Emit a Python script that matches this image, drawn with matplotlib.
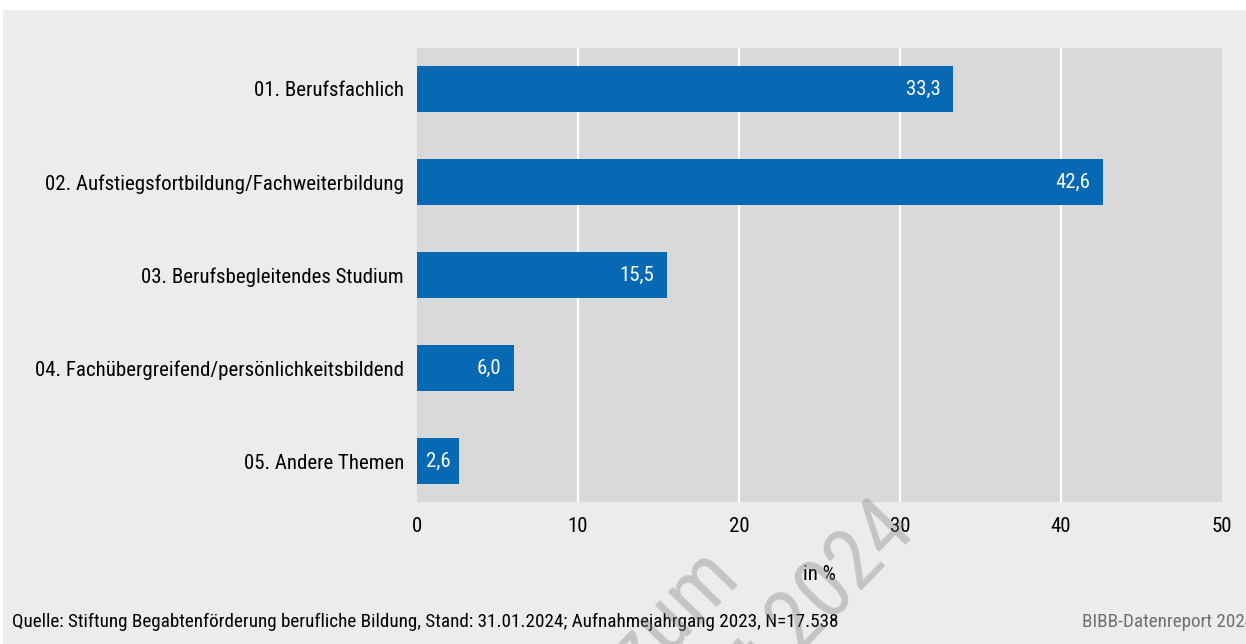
import matplotlib
matplotlib.use("Agg")
import matplotlib.pyplot as plt
from matplotlib import font_manager
from matplotlib.patches import Rectangle

# data
categories = [
    "01. Berufsfachlich",
    "02. Aufstiegsfortbildung/Fachweiterbildung",
    "03. Berufsbegleitendes Studium",
    "04. Fachübergreifend/persönlichkeitsbildend",
    "05. Andere Themen",
]
values = [33.3, 42.6, 15.5, 6.0, 2.6]
xticks = [0, 10, 20, 30, 40, 50]

source = "Quelle: Stiftung Begabtenförderung berufliche Bildung, Stand: 31.01.2024; Aufnahmejahrgang 2023, N=17.538"
credit = "BIBB-Datenreport 2024"

# pick a narrow font if one is there
names = {f.name for f in font_manager.fontManager.ttflist}
family = 'DejaVu Sans'
for cand in ['Roboto Condensed', 'Liberation Sans Narrow', 'Liberation Sans']:
    if cand in names:
        family = cand
        break
plt.rcParams['font.family'] = [family, 'DejaVu Sans']

bar_color = '#0769b4'
panel_bg = '#ececec'
plot_bg = '#d9d9d9'
fs = 15

fig = plt.figure(figsize=(12.46, 6.44), dpi=100)
fig.patch.set_facecolor('white')
# outer grey panel
fig.patches.append(Rectangle((3 / 1246, 0), 1, 1 - 10 / 644, transform=fig.transFigure,
                             facecolor=panel_bg, edgecolor='none', zorder=-5))

ax = fig.add_axes([417 / 1246, 1 - 502 / 644, (1222 - 417) / 1246, (502 - 48) / 644])
ax.set_facecolor(plot_bg)

y = list(range(len(categories)))
ax.barh(y, values, height=0.49, color=bar_color, zorder=3)

ax.set_xlim(0, 50)
ax.set_ylim(len(categories) - 0.56, -0.44)
ax.set_xticks(xticks)
ax.set_xticklabels([str(t) for t in xticks], fontsize=fs)
ax.set_yticks(y)
ax.set_yticklabels(categories, fontsize=fs)
ax.tick_params(axis='y', length=0, pad=9.4)
ax.tick_params(axis='x', length=0, pad=10.5)
for s in ax.spines.values():
    s.set_visible(False)
for t in xticks[1:-1]:
    ax.axvline(t, color='white', lw=1.6, zorder=1)

# value labels inside bars
for yi, v in zip(y, values):
    lab = f"{v:.1f}".replace('.', ',')
    if v < 5:
        ax.text(v / 2, yi, lab, color='white', fontsize=fs, ha='center', va='center', zorder=4)
    else:
        ax.annotate(lab, (v, yi), xytext=(-9, 0), textcoords='offset points',
                    color='white', fontsize=fs, ha='right', va='center', zorder=4)

fig.text((417 + 1222) / 2 / 1246, 1 - 575 / 644, "in %", fontsize=fs, ha='center', va='center')
fig.text(12 / 1246, 1 - 622 / 644, source, fontsize=13.8, ha='left', va='center')
fig.text(1082 / 1246, 1 - 622 / 644, credit, fontsize=13.8, ha='left', va='center', color='#707070')

# faint watermark
wm = dict(fontsize=62, color='#808080', alpha=0.37, rotation=46, rotation_mode='anchor',
          ha='right', va='baseline', zorder=5)
fig.text(742 / 1246, 1 - 580 / 644, "Vorabversion zum", **wm)
fig.text(918 / 1246, 1 - 532 / 644, "Datenreport 2024", **wm)

fig.savefig("out.png", dpi=100)
